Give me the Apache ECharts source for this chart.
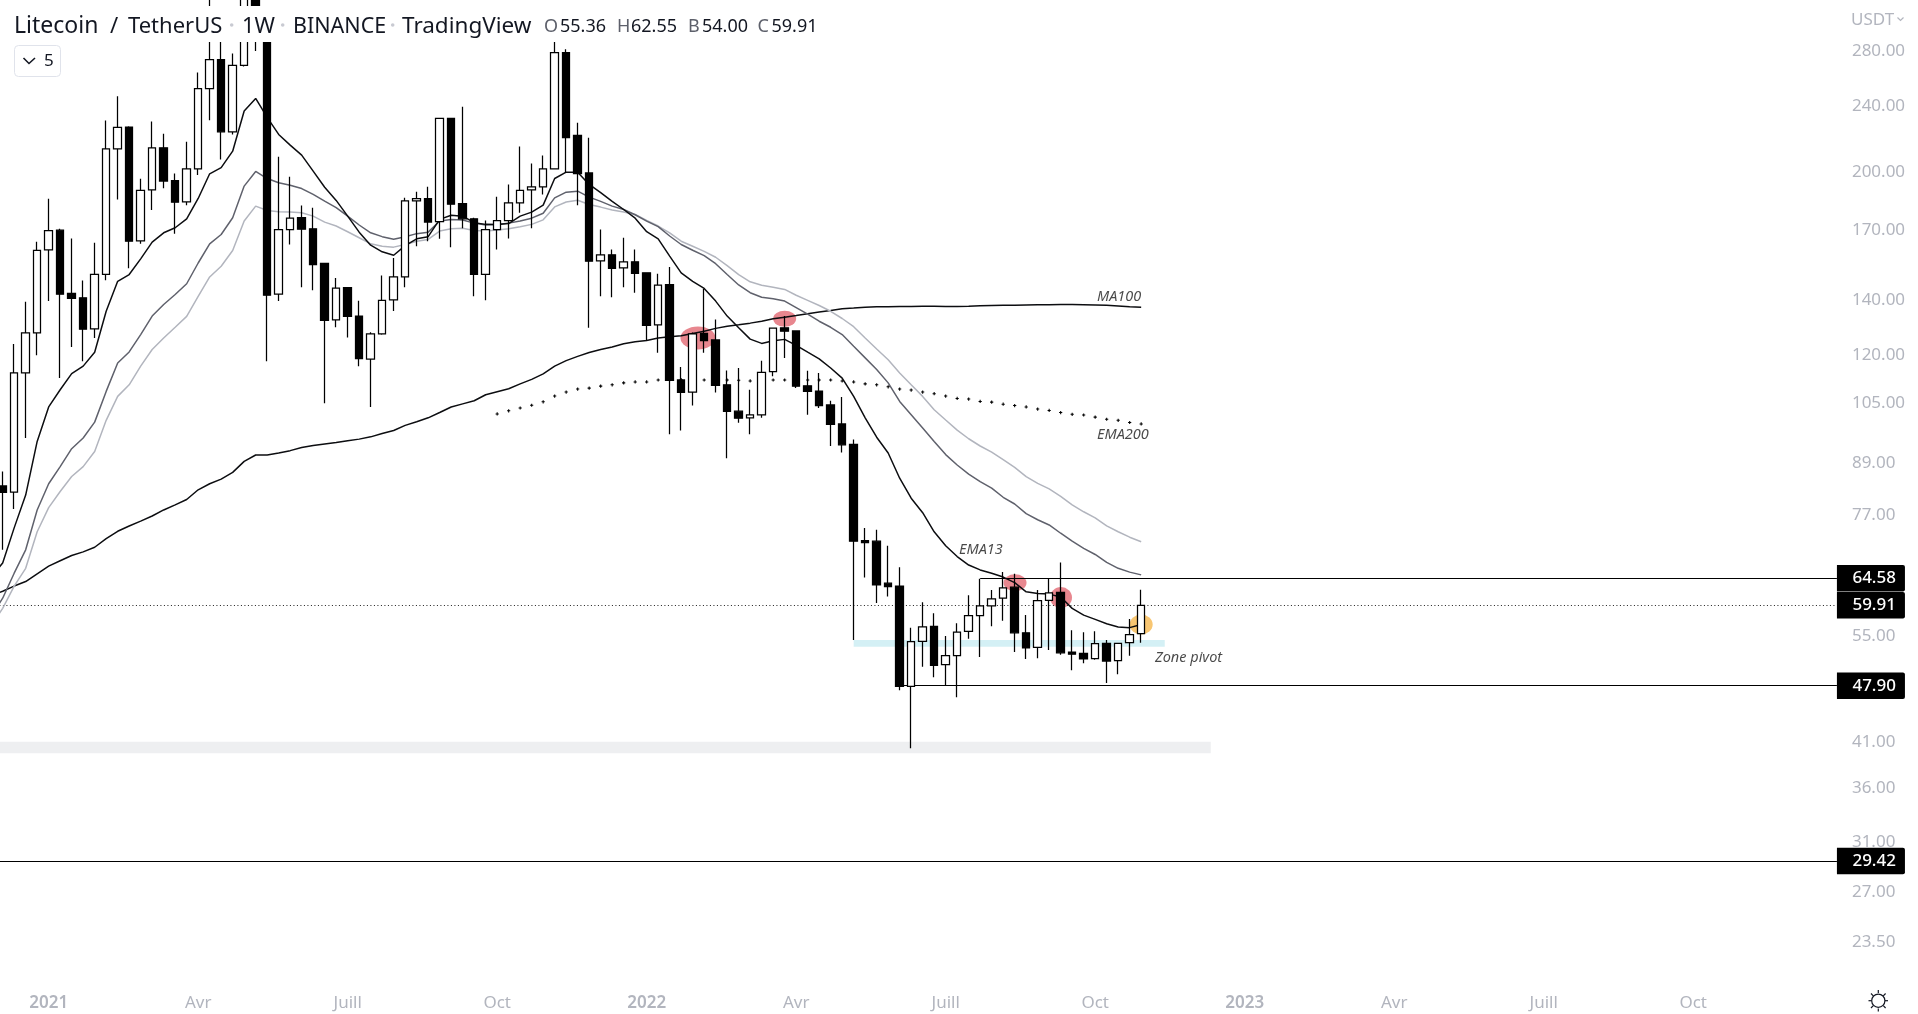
<!DOCTYPE html>
<html><head><meta charset="utf-8">
<style>html,body{margin:0;padding:0;background:#fff}#c{width:1918px;height:1014px}</style>
<script src="https://cdn.jsdelivr.net/npm/echarts@6/dist/echarts.min.js"></script>
</head><body><div id="c"></div>
<script>
const opens=[83.5,82.07,114.3,127.8,161.0,170.0,142.6,140.9,129.2,150.4,
213.2,226.5,165.1,190.2,213.8,195.1,184.0,201.7,252.1,273.3,
223.5,268.8,340,290,142.3,170.3,176.1,170.7,155.0,132.5,
144.9,133.9,118.8,127.4,140.1,149.3,184.5,185.6,174.1,232.0,
183.0,175.5,150.4,170.3,174.6,183.5,190.2,191.8,201.7,278.6,
221.3,199.4,156.1,158.8,153.1,155.7,151.0,130.7,146.1,112.1,
108.4,127.6,125.3,110.6,102.8,100.9,101.7,114.7,129.6,128.5,
110.3,108.7,104.6,99.2,93.7,71.7,71.6,63.7,63.2,47.8,
54.2,56.5,50.8,52.1,55.7,58.2,59.8,61.1,63.0,55.5,
53.3,60.75,62.1,52.6,52.4,51.65,53.9,51.35,54.0,55.36];
const closes=[82.0,114.3,127.8,160.8,169.8,142.3,140.7,129.1,150.4,213.2,
226.3,164.9,190.0,213.8,194.9,183.8,201.7,252.1,273.3,223.5,
268.8,335,290,141.9,170.3,175.8,170.5,154.5,132.3,144.7,
133.8,119.0,127.4,139.9,149.3,184.5,185.6,173.9,232.0,182.8,
175.5,150.4,170.3,174.6,183.5,190.0,191.8,201.7,278.6,220.0,
199.0,156.0,158.8,152.9,155.7,150.8,130.5,145.9,112.0,108.3,
127.4,125.1,110.4,102.7,100.8,101.7,114.5,129.5,128.4,110.2,
108.6,104.4,99.1,93.6,71.6,71.3,63.4,63.1,47.8,54.15,
56.4,50.7,52.1,55.6,58.2,59.8,61.0,62.9,55.5,53.2,
60.7,62.0,52.5,52.3,51.6,53.85,51.3,53.9,55.2,59.91];
const lows=[69.9,78.3,95.4,120.1,139.6,112.7,122.9,118.1,126.0,147.9,
185.2,152.9,163.7,179.8,191.1,168.3,182.3,198.2,230.9,207.0,
221.8,268.0,279.8,118.1,139.6,163.4,145.1,143.9,105.1,129.8,
126.2,116.5,104.0,127.1,135.8,145.1,162.6,164.9,166.0,162.2,
170.9,141.5,139.9,161.1,166.2,178.5,170.9,187.8,201.3,199.4,
182.3,129.6,141.5,141.1,145.1,142.9,125.1,120.9,96.4,97.4,
104.4,120.9,108.3,90.2,99.5,96.4,100.9,113.3,119.2,109.6,
101.8,103.7,93.3,91.6,54.4,64.7,60.3,61.4,47.3,40.25,
50.5,49.06,48.0,46.4,54.6,51.9,56.5,57.4,52.6,51.6,
51.7,52.9,52.2,50.0,51.0,51.5,48.25,49.45,52.05,54.0];
const highs=[86.9,123.9,139.3,164.6,185.6,170.7,166.2,147.8,164.2,230.7,
246.7,227.0,196.2,230.1,222.3,199.0,217.4,263.6,332,297,
277.9,345,350,295,208.5,197.3,182.1,181.0,155.3,148.9,
145.0,139.7,128.0,149.9,157.4,186.1,189.2,191.8,232.5,232.1,
239.7,176.0,174.7,186.6,193.1,214.6,204.7,209.3,287.3,281.2,
229.3,219.8,170.4,161.1,166.5,161.1,151.2,150.6,153.5,116.2,
127.9,144.5,132.6,115.1,115.9,109.1,118.3,129.6,133.9,128.7,
115.0,114.3,105.8,106.9,95.0,74.3,73.9,70.7,66.6,56.3,
60.4,58.6,55.0,57.0,61.6,64.5,62.5,65.7,65.4,58.3,
62.5,64.5,67.5,55.9,55.6,55.75,54.4,54.0,57.65,62.55];

// moving averages; first value is the week before the first candle
const ma100=[61.5,62.3,63.2,64.0,65.4,66.8,67.8,68.8,69.5,70.4,72.1,73.6,74.7,75.7,76.8,78.1,79.2,80.4,82.6,84.0,85.1,
86.7,89.4,91.0,91.0,91.5,92.1,92.9,93.4,93.8,94.2,94.7,95.1,95.7,96.6,97.4,98.8,99.8,100.9,102.4,104.0,
104.9,105.8,107.6,108.5,109.4,110.9,112.3,114.0,116.5,118.3,119.7,121.0,122.0,122.9,124.0,124.7,125.1,126.0,126.4,126.8,
127.6,128.4,129.4,130.2,130.7,131.3,132.0,132.9,133.5,134.1,134.8,135.4,136.0,136.7,136.9,137.2,137.4,137.4,137.5,137.5,
137.6,137.6,137.5,137.5,137.6,137.8,137.9,138.0,138.0,138.1,138.2,138.2,138.3,138.3,138.2,138.1,138.0,137.7,137.4,137.2];
const ema13=[64.7,67.4,74.3,81.4,94.5,104.0,109.1,114.1,116.5,121.1,135.7,147.5,150.3,157.0,164.5,168.8,171.2,175.5,185.7,198.9,202.3,
211.8,236.8,245.3,232.7,221.9,215.4,209.5,200.4,191.6,184.7,176.8,169.1,163.1,160.1,158.6,162.9,166.0,167.0,175.2,177.2,
176.8,173.6,172.8,172.7,173.2,176.8,178.8,182.3,196.3,199.8,199.8,193.1,188.7,184.2,180.1,175.8,169.3,166.0,158.2,151.0,
147.5,144.6,139.6,133.9,129.6,125.6,124.1,125.0,125.5,123.4,121.1,118.9,115.9,112.7,107.1,100.9,95.6,91.5,85.3,80.7,
77.5,73.5,70.7,68.6,67.0,66.1,65.5,64.8,63.8,62.2,61.9,61.8,61.3,59.4,58.3,57.6,56.9,56.4,56.3,56.8];
const emaMid=[58.2,61.1,65.5,69.9,78.1,84.0,88.1,92.6,95.4,99.7,108.6,117.5,121.2,127.2,133.9,138.3,142.2,146.5,155.2,163.7,168.0,
176.0,192.2,200.2,196.3,194.0,192.7,190.9,187.8,184.3,181.0,176.8,172.5,168.8,167.0,165.8,167.0,168.4,169.1,174.4,175.2,
174.9,173.4,172.5,172.7,173.4,174.4,175.8,178.2,186.0,189.0,189.5,186.4,184.2,181.8,180.1,177.5,174.4,171.7,167.3,163.4,
160.8,158.4,154.9,150.3,146.0,142.9,141.1,140.5,139.6,137.1,134.6,132.0,129.8,127.2,123.1,119.2,115.4,111.2,105.6,101.8,
98.1,94.5,91.1,88.5,86.3,84.5,83.0,80.9,79.4,77.3,76.0,74.9,73.2,71.6,70.2,69.0,67.5,66.4,65.7,65.2];
const emaLight=[56.6,59.4,63.2,66.4,73.5,78.6,82.2,85.7,88.1,91.9,100.2,107.1,110.6,116.5,122.0,126.0,129.8,133.8,141.4,149.3,153.8,
160.7,174.4,181.8,179.6,179.0,178.8,178.5,176.8,173.9,172.0,169.3,166.5,163.7,162.6,162.2,163.4,164.9,165.7,169.6,170.7,
170.9,169.9,169.6,170.1,170.7,171.7,172.8,175.0,181.4,183.9,184.8,182.6,181.3,179.8,178.8,177.6,174.7,172.0,168.8,164.9,
162.6,160.3,157.7,154.1,150.3,147.3,145.9,145.1,144.2,141.9,139.9,137.9,135.7,133.0,130.0,126.0,122.2,118.6,114.3,110.6,
107.1,103.2,100.3,97.5,95.2,93.3,91.7,89.8,87.9,85.7,84.1,82.8,81.1,79.2,77.7,76.4,74.7,73.5,72.4,71.5];
// EMA200 only from week 43 of the candle list
const ema200Start=43;
const ema200=[102.0,102.9,103.7,104.5,105.5,107.2,108.4,109.3,109.6,110.2,110.6,111.2,111.5,111.5,112.1,112.2,112.2,112.2,112.1,112.1,
112.1,112.0,111.8,112.0,112.1,112.1,111.9,112.1,112.1,112.1,111.8,111.5,110.9,110.6,110.0,109.3,109.0,108.4,107.9,107.2,
106.5,106.3,105.6,105.4,104.8,104.4,104.0,103.4,103.0,102.4,101.9,101.7,101.1,100.5,100.2,99.6,99.2];

const priceTicks=[280,240,200,170,140,120,105,89,77,55,41,36,31,27,23.5];
const timeWeeks=[4,17,30,43,56,69,82,95,108,121,134,147];
const timeLabels=['2021','Avr','Juill','Oct','2022','Avr','Juill','Oct','2023','Avr','Juill','Oct'];
const levelPrices=[64.58,47.90,29.42];
const levelFromWeek=[85,77.7,-1.5];
const lastPrice=59.91;
const pivotZone=[53.4,54.4];
const supportZone=[39.7,41.0];
const rejectWeeks=[60.46,68,88.03,92.03,99];
const rejectPrices=[126.0,132.9,63.8,61.2,56.8];
const noteWeeks=[95.16,95.16,83.16,100.2];
const notePrices=[141.2,96.1,69.8,51.7];
const noteTexts=['MA100','EMA200','EMA13','Zone pivot'];

const WEEKS=161;
const categories=new Array(WEEKS).fill('');
timeWeeks.forEach((w,k)=>{categories[w+1]=timeLabels[k];});
const candleData=[['-','-','-','-']].concat(opens.map((o,i)=>[o,closes[i],lows[i],highs[i]]));

const SANS='"Noto Sans","Open Sans",sans-serif';
const GRAY='#b2b5be', INK='#131722';
const ellipseSizes=[[35,23],[23,16],[23,17],[22,21],[23,20]];
const ellipseColors=['#e8878f','#e8878f','#e8878f','#e8878f','#f8c672'];

function levelLine(p,from){
  return [{coord:[from,p],name:p.toFixed(2)},{coord:[159.5,p]}];
}
const boxLabel={show:true,position:'end',distance:0,formatter:p=>p.name,
  color:'#fff',backgroundColor:'#000',fontFamily:SANS,fontSize:17,fontWeight:500,
  height:26.5,lineHeight:26.5,align:'left',verticalAlign:'middle',padding:[0,9,0,15.5],borderRadius:[0,2,2,0]};

const plus='path://M1 0h1v1h1v1h-1v1h-1v-1h-1v-1h1z';
function legendText(x,text,color,size){
  return {type:'text',x:x,y:26.5,z:101,silent:true,style:{text:text,fill:color,fontFamily:SANS,fontSize:size,verticalAlign:'middle'}};
}
function dot(cx){return {type:'circle',z:101,silent:true,shape:{cx,cy:25,r:1.8},style:{fill:'#c8cad2'}};}
function seg(x1,y1,x2,y2,c,w){return {type:'line',z:101,silent:true,shape:{x1,y1,x2,y2},style:{stroke:c,lineWidth:w||1.2}};}

const option={
  animation:false,backgroundColor:'#fff',tooltip:{show:false},
  grid:{left:-14.58,top:0,height:985,width:161*11.5,containLabel:false,outerBoundsMode:'none'},
  xAxis:[
    {type:'category',data:categories,boundaryGap:true,position:'bottom',
     axisLine:{show:false},axisTick:{show:false},splitLine:{show:false},
     axisLabel:{interval:0,margin:9.5,hideOverlap:false,color:GRAY,fontFamily:SANS,fontSize:17,
       formatter:v=>/^\d{4}$/.test(v)?'{y|'+v+'}':v,rich:{y:{color:GRAY,fontFamily:SANS,fontSize:17,fontWeight:600}}}},
    {type:'value',min:-1.5,max:159.5,show:false}
  ],
  yAxis:{type:'log',logBase:10,min:20.84,max:322.5,position:'right',
    axisLine:{show:false},axisTick:{show:false},splitLine:{show:false},minorTick:{show:false},
    axisLabel:{customValues:priceTicks,margin:15,color:GRAY,fontFamily:SANS,fontSize:17,align:'left',padding:[6,0,0,0],
      formatter:v=>Number(v).toFixed(2)}},
  series:[
    {type:'scatter',name:'rejects',xAxisIndex:1,z:2,silent:true,
     data:rejectWeeks.map((w,i)=>[w,rejectPrices[i]]),
     symbolSize:(v,p)=>ellipseSizes[p.dataIndex],
     itemStyle:{opacity:1,color:p=>ellipseColors[p.dataIndex]},
     markArea:{silent:true,z:1,itemStyle:{color:'#eeeff1'},label:{show:false},data:[
       [{coord:[-1.5,supportZone[1]]},{coord:[105.05,supportZone[0]]}],
       [{coord:[74,pivotZone[1]],itemStyle:{color:'#d4f0f5'}},{coord:[101.05,pivotZone[0]]}]
     ]}},
    {type:'line',name:'levels',xAxisIndex:1,z:3,data:[],silent:true,
     markLine:{silent:true,z:3,symbol:['none','none'],animation:false,precision:2,
       lineStyle:{color:'#000',width:1.2,type:'solid'},label:boxLabel,
       data:levelPrices.map((p,i)=>levelLine(p,levelFromWeek[i])).concat([
         [{coord:[-1.5,lastPrice],name:lastPrice.toFixed(2),lineStyle:{type:[1,2.5],width:1.2,color:'#222'}},{coord:[159.5,lastPrice]}]
       ])}},
    {type:'line',name:'MA100',data:ma100,symbol:'none',z:4,silent:true,lineStyle:{color:'#0c0d10',width:1.5}},
    {type:'line',name:'EMA34',data:emaLight,symbol:'none',z:4,silent:true,lineStyle:{color:'#b2b5be',width:1.5}},
    {type:'line',name:'EMA21',data:emaMid,symbol:'none',z:4,silent:true,lineStyle:{color:'#5f616c',width:1.5}},
    {type:'line',name:'EMA13',data:ema13,symbol:'none',z:4,silent:true,lineStyle:{color:'#0c0d10',width:1.5}},
    {type:'scatter',name:'EMA200',xAxisIndex:1,data:ema200.map((v,i)=>[ema200Start+i,v]),symbol:plus,symbolSize:3.2,z:4,silent:true,itemStyle:{color:'#000',opacity:1}},
    {type:'candlestick',name:'LTCUSDT',data:candleData,barWidth:8,z:10,silent:true,
     itemStyle:{color:'#fff',color0:'#000',borderColor:'#000',borderColor0:'#000',borderWidth:1.25}},
    {type:'scatter',name:'notes',xAxisIndex:1,symbolSize:0,z:11,silent:true,
     data:noteWeeks.map((w,i)=>[w,notePrices[i]]),
     label:{show:true,position:'right',distance:0,fontFamily:SANS,fontStyle:'italic',fontSize:14.5,color:'#1a1a1a',
       formatter:p=>noteTexts[p.dataIndex]}}
  ],
  graphic:{elements:[
    {type:'rect',z:100,silent:true,shape:{x:10,y:6,width:818,height:36},style:{fill:'#fff'}},
    legendText(14,'Litecoin',INK,23),legendText(110,'/',INK,22),legendText(128,'TetherUS',INK,22),
    dot(231.7),legendText(242,'1W',INK,22),
    dot(282.7),legendText(293,'BINANCE',INK,21.5),
    dot(392.7),legendText(402,'TradingView',INK,22.5),
    legendText(544,'O',"#5d606b",18),legendText(560,'55.36',INK,18),
    legendText(617,'H',"#5d606b",18),legendText(631,'62.55',INK,18),
    legendText(688,'B',"#5d606b",18),legendText(702,'54.00',INK,18),
    legendText(757.5,'C',"#5d606b",18),legendText(771.5,'59.91',INK,18),
    {type:'rect',z:100,silent:true,shape:{x:14.5,y:45.5,width:46,height:31,r:4},style:{fill:'#fff',stroke:'#e0e3eb',lineWidth:1}},
    {type:'polyline',z:101,silent:true,shape:{points:[[23.5,58],[29,63.5],[35,58]]},style:{stroke:INK,lineWidth:1.6,fill:null}},
    {type:'text',z:101,silent:true,x:44,y:61,style:{text:'5',fill:INK,fontFamily:SANS,fontSize:17,verticalAlign:'middle'}},
    {type:'text',z:101,silent:true,x:1851,y:20.5,style:{text:'USDT',fill:GRAY,fontFamily:SANS,fontSize:17,verticalAlign:'middle'}},
    {type:'polyline',z:101,silent:true,shape:{points:[[1897.5,17.5],[1900.5,20.5],[1903.5,17.5]]},style:{stroke:GRAY,lineWidth:1.2,fill:null}},
    {type:'circle',z:101,silent:true,shape:{cx:1878.3,cy:1000.7,r:6.6},style:{fill:'#fff',stroke:INK,lineWidth:1.2}},
    seg(1878.3,990,1878.3,993,INK),seg(1878.3,1008.5,1878.3,1011.5,INK),
    seg(1868.5,1000.7,1871.5,1000.7,INK),seg(1885,1000.7,1888,1000.7,INK),
    seg(1871,993.5,1873.3,995.8,INK),seg(1883.3,995.8,1885.6,993.5,INK),
    seg(1871,1008,1873.3,1005.7,INK),seg(1883.3,1005.7,1885.6,1008,INK)
  ]}
};
const chart=echarts.init(document.getElementById('c'),null,{renderer:'canvas',width:1918,height:1014});
chart.setOption(option);
</script></body></html>
